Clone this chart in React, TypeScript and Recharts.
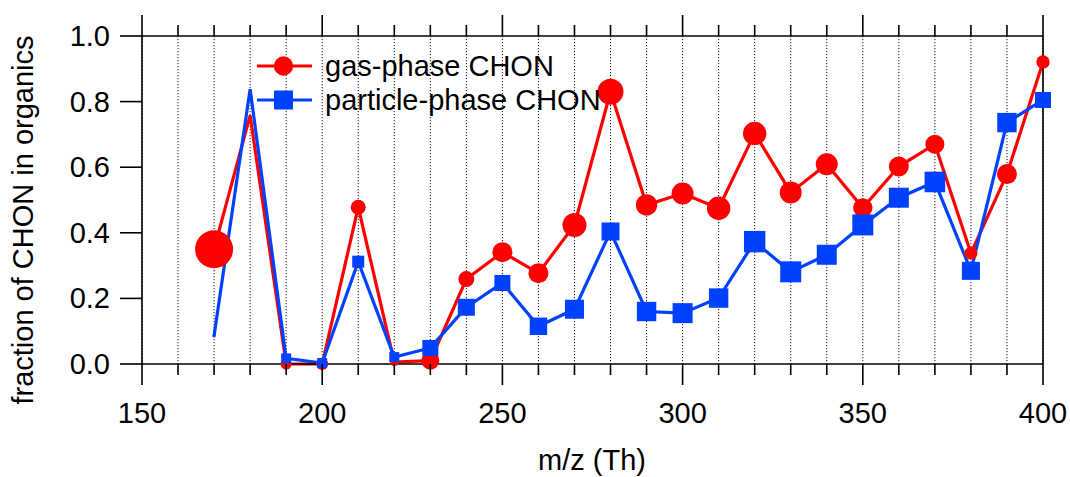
import React from 'react';
import { LineChart, Line, XAxis, YAxis, CartesianGrid, Legend } from 'recharts';

const mz = [170, 180, 190, 200, 210, 220, 230, 240, 250, 260, 270, 280, 290, 300, 310, 320, 330, 340, 350, 360, 370, 380, 390, 400];
const gasPhase = [0.35, 0.758, 0.0, 0.0, 0.478, 0.006, 0.01, 0.259, 0.341, 0.277, 0.424, 0.83, 0.485, 0.52, 0.475, 0.703, 0.523, 0.609, 0.476, 0.602, 0.67, 0.338, 0.579, 0.921];
const particlePhase = [0.086, 0.838, 0.017, 0.003, 0.312, 0.021, 0.049, 0.173, 0.247, 0.115, 0.167, 0.404, 0.16, 0.155, 0.201, 0.373, 0.281, 0.333, 0.424, 0.507, 0.555, 0.284, 0.736, 0.805];
// marker sizes (encode a third quantity in the original figure)
const gasMarkerRadius = [19, 0, 5.5, 6, 7.5, 4, 9, 8, 10, 10, 12, 13, 10.7, 11, 11.7, 11.7, 11, 11, 9.7, 10, 9.5, 6.5, 10, 6.7];
const particleMarkerHalf = [1.5, 0, 5, 5, 6, 5, 8, 8.5, 8, 8.7, 9.5, 9, 9.7, 10, 9.7, 10.7, 10.5, 10, 10.5, 10, 10.3, 9, 9.7, 8];

const xTicks = [150, 160, 170, 180, 190, 200, 210, 220, 230, 240, 250, 260, 270, 280, 290, 300, 310, 320, 330, 340, 350, 360, 370, 380, 390, 400];
const xLabelTicks = [150, 200, 250, 300, 350, 400];
const yTicks = [0, 0.2, 0.4, 0.6, 0.8, 1.0];
const yTickLabels = ['0.0', '0.2', '0.4', '0.6', '0.8', '1.0'];

const seriesNames = ['gas-phase CHON', 'particle-phase CHON'];
const RED = '#FF0000';
const BLUE = '#0040FF';
const FONT = '"Liberation Sans", Arial, sans-serif';
const FS = 29;

const data = mz.map((m, i) => ({ mz: m, gas: gasPhase[i], particle: particlePhase[i] }));

const BottomTick = (props: any) => {
  const { x, y, payload } = props;
  const major = xLabelTicks.includes(payload.value);
  return (
    <g>
      <line x1={x} y1={y} x2={x} y2={y + (major ? 21 : 11)} stroke="#000" strokeWidth={1.6} />
      {major && (
        <text x={x} y={y + 59} textAnchor="middle" fontSize={FS} fontFamily={FONT} fill="#000">
          {payload.value}
        </text>
      )}
    </g>
  );
};

const TopTick = (props: any) => {
  const { x, y, payload } = props;
  const major = xLabelTicks.includes(payload.value);
  return <line x1={x} y1={y} x2={x} y2={y - (major ? 21 : 11)} stroke="#000" strokeWidth={1.6} />;
};

const LeftTick = (props: any) => {
  const { x, y, payload } = props;
  const idx = yTicks.indexOf(payload.value);
  return (
    <g>
      <line x1={x} y1={y} x2={x - 22} y2={y} stroke="#000" strokeWidth={1.6} />
      <text x={x - 32} y={y + 10} textAnchor="end" fontSize={FS} fontFamily={FONT} fill="#000">
        {idx >= 0 ? yTickLabels[idx] : payload.value}
      </text>
    </g>
  );
};

const RightTick = (props: any) => {
  const { x, y } = props;
  return <line x1={x} y1={y} x2={x + 21} y2={y} stroke="#000" strokeWidth={1.6} />;
};

const GasDot = (props: any) => {
  const { cx, cy, index } = props;
  const r = gasMarkerRadius[index];
  if (!r || cx == null || cy == null) return <g key={`g${index}`} />;
  return <circle key={`g${index}`} cx={cx} cy={cy} r={r} fill={RED} stroke="none" />;
};

const ParticleDot = (props: any) => {
  const { cx, cy, index } = props;
  const h = particleMarkerHalf[index];
  if (!h || cx == null || cy == null) return <g key={`p${index}`} />;
  return <rect key={`p${index}`} x={cx - h} y={cy - h} width={2 * h} height={2 * h} fill={BLUE} stroke="none" />;
};

const renderLegend = () => (
  <svg width={380} height={72} style={{ display: 'block' }}>
    <line x1={7} y1={21} x2={62} y2={21} stroke={RED} strokeWidth={3} />
    <circle cx={33.5} cy={21} r={9.7} fill={RED} />
    <text x={75} y={31} fontSize={FS} fontFamily={FONT} fill="#000">{seriesNames[0]}</text>
    <line x1={7} y1={55} x2={62} y2={55} stroke={BLUE} strokeWidth={3} />
    <rect x={24} y={45.5} width={19} height={19} fill={BLUE} />
    <text x={75} y={65} fontSize={FS} fontFamily={FONT} fill="#000">{seriesNames[1]}</text>
  </svg>
);

export default function App() {
  return (
    <div style={{ position: 'absolute', left: 0, top: 0, width: 1070, height: 477, background: '#fff' }}>
      <LineChart width={1070} height={477} data={data} margin={{ top: 0, right: 0, bottom: 0, left: 0 }}>
        <CartesianGrid horizontal={false} stroke="#111" strokeDasharray="1.2 1.8" strokeWidth={1} />
        <XAxis
          dataKey="mz"
          type="number"
          domain={[150, 400]}
          ticks={xTicks}
          interval={0}
          height={113}
          axisLine={{ stroke: '#000', strokeWidth: 1.6 }}
          tickLine={false}
          tickSize={0}
          tickMargin={0}
          tick={<BottomTick />}
          label={{
            content: () => (
              <text x={592} y={470} textAnchor="middle" fontSize={FS} fontFamily={FONT} fill="#000">m/z (Th)</text>
            ),
          }}
        />
        <XAxis
          xAxisId="top"
          orientation="top"
          dataKey="mz"
          type="number"
          domain={[150, 400]}
          ticks={xTicks}
          interval={0}
          height={36}
          axisLine={{ stroke: '#000', strokeWidth: 1.6 }}
          tickLine={false}
          tickSize={0}
          tickMargin={0}
          tick={<TopTick />}
        />
        <YAxis
          type="number"
          domain={[0, 1]}
          ticks={yTicks}
          interval={0}
          width={142}
          axisLine={{ stroke: '#000', strokeWidth: 1.6 }}
          tickLine={false}
          tickSize={0}
          tickMargin={0}
          tick={<LeftTick />}
          label={{
            content: () => (
              <text x={23} y={220} transform="rotate(-90 23 220)" textAnchor="middle" dominantBaseline="central" fontSize={FS} fontFamily={FONT} fill="#000">
                fraction of CHON in organics
              </text>
            ),
          }}
        />
        <YAxis
          yAxisId="right"
          orientation="right"
          type="number"
          domain={[0, 1]}
          ticks={yTicks}
          interval={0}
          width={27}
          axisLine={{ stroke: '#000', strokeWidth: 1.6 }}
          tickLine={false}
          tickSize={0}
          tickMargin={0}
          tick={<RightTick />}
        />
        <Legend
          layout="vertical"
          align="center"
          verticalAlign="middle"
          content={renderLegend}
          wrapperStyle={{ left: 250, top: 45, width: 380, height: 72 }}
        />
        <Line
          dataKey="gas"
          name={seriesNames[0]}
          stroke={RED}
          strokeWidth={3.2}
          dot={GasDot}
          activeDot={false}
          isAnimationActive={false}
        />
        <Line
          dataKey="particle"
          name={seriesNames[1]}
          stroke={BLUE}
          strokeWidth={3.2}
          dot={ParticleDot}
          activeDot={false}
          isAnimationActive={false}
        />
      </LineChart>
    </div>
  );
}
